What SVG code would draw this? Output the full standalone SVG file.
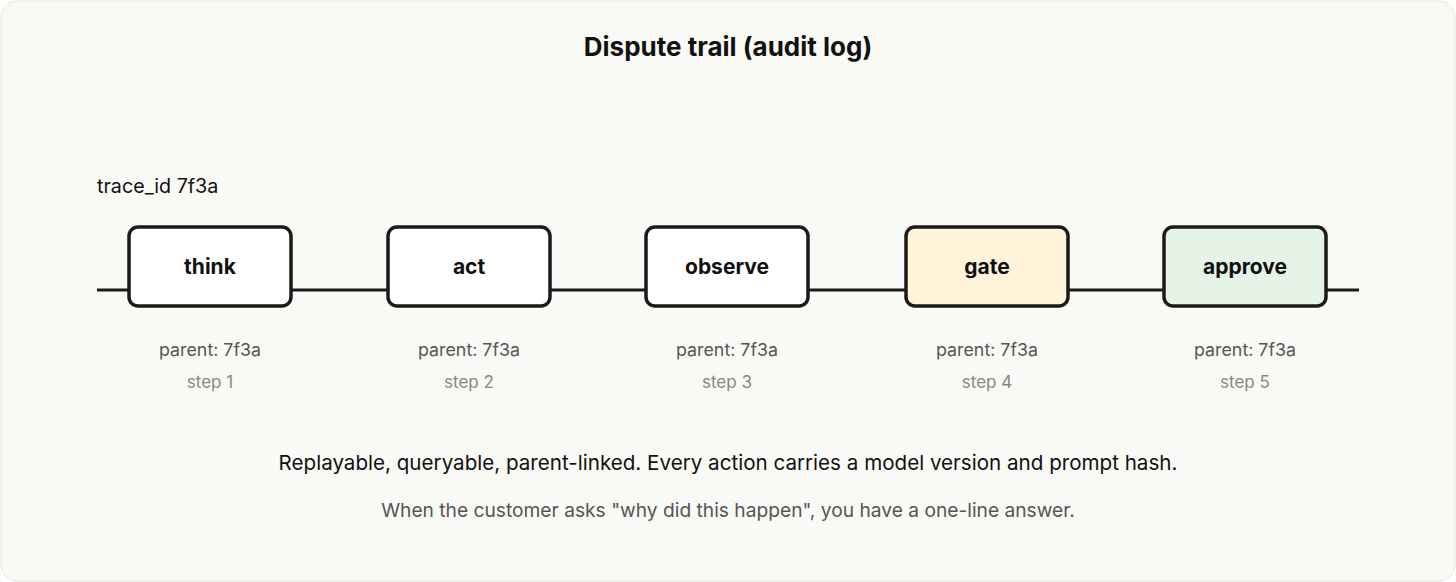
<svg xmlns="http://www.w3.org/2000/svg" width="1456" height="582" viewBox="0 0 1456 582">
<style>
.box{stroke:#1a1a1a;stroke-width:3.5}
.lbl{font-family:Inter,"Liberation Sans",sans-serif;font-weight:700;font-size:21px;fill:#111;text-anchor:middle}
.par{font-family:Inter,"Liberation Sans",sans-serif;font-size:17.8px;fill:#555;text-anchor:middle}
.stp{font-family:Inter,"Liberation Sans",sans-serif;font-size:17px;fill:#888;text-anchor:middle}
</style>
<rect x="1" y="1" width="1454" height="580" rx="16" fill="#f9f9f5" stroke="#e6e6e0"/>
<text x="728" y="56" font-family="Inter,'Liberation Sans',sans-serif" font-weight="700" font-size="26" fill="#111" text-anchor="middle">Dispute trail (audit log)</text>
<text x="97" y="193" font-family="Inter,'Liberation Sans',sans-serif" font-size="19.7" fill="#111">trace_id 7f3a</text>
<g id="connectors"><line x1="97" y1="290" x2="1359" y2="290" stroke="#1a1a1a" stroke-width="3"/></g>
<g id="think"><rect class="box" x="129" y="227" width="162" height="79" rx="9" fill="#fff"/><text class="lbl" x="210" y="274">think</text><text class="par" x="210" y="356">parent: 7f3a</text><text class="stp" x="210" y="388">step 1</text></g>
<g id="act"><rect class="box" x="388" y="227" width="162" height="79" rx="9" fill="#fff"/><text class="lbl" x="469" y="274">act</text><text class="par" x="469" y="356">parent: 7f3a</text><text class="stp" x="469" y="388">step 2</text></g>
<g id="observe"><rect class="box" x="646" y="227" width="162" height="79" rx="9" fill="#fff"/><text class="lbl" x="727" y="274">observe</text><text class="par" x="727" y="356">parent: 7f3a</text><text class="stp" x="727" y="388">step 3</text></g>
<g id="gate"><rect class="box" x="906" y="227" width="162" height="79" rx="9" fill="#fff3d9"/><text class="lbl" x="987" y="274">gate</text><text class="par" x="987" y="356">parent: 7f3a</text><text class="stp" x="987" y="388">step 4</text></g>
<g id="approve"><rect class="box" x="1164" y="227" width="162" height="79" rx="9" fill="#e6f4e8"/><text class="lbl" x="1245" y="274">approve</text><text class="par" x="1245" y="356">parent: 7f3a</text><text class="stp" x="1245" y="388">step 5</text></g>
<text x="728" y="470" font-family="Inter,'Liberation Sans',sans-serif" font-size="20.6" fill="#111" text-anchor="middle">Replayable, queryable, parent-linked. Every action carries a model version and prompt hash.</text>
<text x="728" y="517" font-family="Inter,'Liberation Sans',sans-serif" font-size="19.2" fill="#555" text-anchor="middle">When the customer asks "why did this happen", you have a one-line answer.</text>
</svg>
